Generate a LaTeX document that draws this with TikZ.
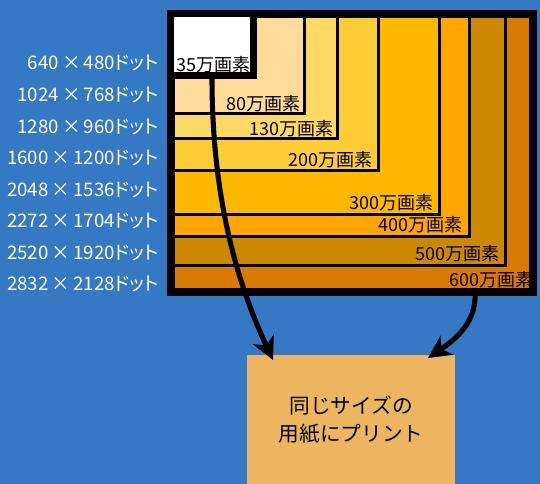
\documentclass[tikz,border=0pt]{standalone}
\usepackage{fontspec}
\usetikzlibrary{arrows.meta}
\newfontfamily\jp{Noto Sans CJK JP}
\newfontfamily\jpp[RawFeature=+palt]{Noto Sans CJK JP}
\definecolor{bgblue}{HTML}{3579C5}
\definecolor{cA}{HTML}{FFDB99}
\definecolor{cB}{HTML}{FFD966}
\definecolor{cC}{HTML}{FFCC33}
\definecolor{cD}{HTML}{FFB800}
\definecolor{cE}{HTML}{FFA500}
\definecolor{cF}{HTML}{CC8800}
\definecolor{cG}{HTML}{D97A00}
\definecolor{boxc}{HTML}{EDB55F}
\tikzset{
  res/.style={fill=#1, draw=black, line width=2.25pt},
  dotlabel/.style={anchor=east, text=white, font=\jpp\fontsize{14}{16}\selectfont, inner sep=0pt},
  mplabel/.style={anchor=east, text=black, font=\jpp\fontsize{13.5}{15}\selectfont, inner sep=0pt},
  bigarrow/.style={line width=3.8pt, -{Stealth[length=17pt, width=17pt, inset=5pt]}},
}
\begin{document}
\begin{tikzpicture}[x=0.75pt, y=-0.75pt]
\useasboundingbox (0,0) rectangle (540,484);
\fill[bgblue] (0,0) rectangle (540,484);
% nested rectangles
\fill[cG] (174,17) rectangle (529,288);
\draw[res=cF] (172,15) rectangle (505,266);
\draw[res=cE] (172,15) rectangle (469,237);
\draw[res=cD] (172,15) rectangle (439,215);
\draw[res=cC] (172,15) rectangle (378.5,170.5);
\draw[res=cB] (172,15) rectangle (337.5,138.5);
\draw[res=cA] (172,15) rectangle (304,113.5);
% outer frame
\draw[line width=6pt] (171,14) rectangle (533,292);
% 35 box
\draw[fill=white, line width=5.25pt] (170.5,13.5) rectangle (253.5,76);
% inner labels
\node[mplabel] (m35) at (251,65) {35万画素};
\node[mplabel] (m80) at (301,103.5) {80万画素};
\node[mplabel] (m130) at (334,128.5) {130万画素};
\node[mplabel] (m200) at (373,160) {200万画素};
\node[mplabel] (m300) at (434,203) {300万画素};
\node[mplabel] (m400) at (463,225) {400万画素};
\node[mplabel] (m500) at (500,254) {500万画素};
\node[mplabel] (m600) at (534,280) {600万画素};
% left labels
\node[dotlabel] (d1) at (159,63) {640\,×\,480ドット};
\node[dotlabel] (d2) at (159,95) {1024\,×\,768ドット};
\node[dotlabel] (d3) at (159,127) {1280\,×\,960ドット};
\node[dotlabel] (d4) at (159,158) {1600\,×\,1200ドット};
\node[dotlabel] (d5) at (159,190) {2048\,×\,1536ドット};
\node[dotlabel] (d6) at (159,221) {2272\,×\,1704ドット};
\node[dotlabel] (d7) at (159,253) {2520\,×\,1920ドット};
\node[dotlabel] (d8) at (159,284) {2832\,×\,2128ドット};
% print box
\node[fill=boxc, minimum width=156pt, minimum height=97pt, inner sep=0pt, anchor=north west,
      align=center, font=\jp\fontsize{15.5}{20.5}\selectfont] (box) at (247,355) {同じサイズの\\用紙にプリント};
% arrows
\coordinate (s1) at (212,78);
\coordinate (s2) at (475,290);
\coordinate (t1) at (273,360);
\coordinate (t2) at (428,358);
\draw[bigarrow] (s1) .. controls (212,200) and (238,285) .. (t1);
\draw[bigarrow] (s2) .. controls (477,318) and (462,335) .. (t2);
\end{tikzpicture}
\end{document}
